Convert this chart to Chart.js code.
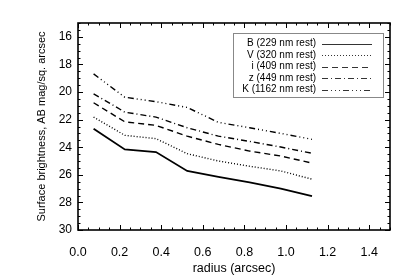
<!DOCTYPE html>
<html>
<head>
<meta charset="utf-8">
<script src="https://cdn.jsdelivr.net/npm/chart.js@4.4.1/dist/chart.umd.min.js"></script>
<style>
html,body{margin:0;padding:0;background:#fff;}
#wrap{width:415px;height:277px;}
</style>
</head>
<body>
<div id="wrap"><canvas id="chart" width="415" height="277"></canvas></div>
<script>
// radial profiles, values
var radius = [0.075, 0.225, 0.375, 0.525, 0.675, 0.825, 0.975, 1.125];
var bandB = [22.66, 24.16, 24.35, 25.72, 26.15, 26.55, 27.0, 27.55];
var bandV = [21.82, 23.14, 23.38, 24.47, 25.0, 25.38, 25.72, 26.32];
var bandI = [20.78, 22.16, 22.42, 23.2, 23.8, 24.28, 24.64, 25.15];
var bandZ = [20.13, 21.46, 21.82, 22.59, 23.2, 23.58, 23.99, 24.44];
var bandK = [18.69, 20.38, 20.7, 21.12, 22.2, 22.59, 23.0, 23.43];
var seriesLabels = ['B (229 nm rest)', 'V (320 nm rest)', 'i (409 nm rest)', 'z (449 nm rest)', 'K (1162 nm rest)'];
var xTicks = [0.0, 0.2, 0.4, 0.6, 0.8, 1.0, 1.2, 1.4];
var yTicks = [16, 18, 20, 22, 24, 26, 28, 30];

Chart.defaults.font.family = '"Liberation Sans", Arial, sans-serif';
Chart.defaults.color = '#000';

function pts(vals) {
  var out = [];
  for (var i = 0; i < radius.length; i++) out.push({x: radius[i], y: vals[i]});
  return out;
}
function line(label, vals, dash, w) {
  return {label: label, data: pts(vals), borderColor: '#000', borderWidth: w,
    borderDash: dash, pointRadius: 0, fill: false, tension: 0};
}

// frame with inward ticks on all four sides
var framePlugin = {
  id: 'frame',
  afterDraw: function (chart) {
    var ctx = chart.ctx, a = chart.chartArea;
    var xs = chart.scales.x, ys = chart.scales.y;
    ctx.save();
    ctx.strokeStyle = '#000';
    ctx.lineWidth = 1;
    ctx.setLineDash([]);
    ctx.beginPath();
    for (var i = 0; i <= 30; i++) {
      var px = Math.round(xs.getPixelForValue(i * 0.05)) + 0.5;
      var len = (i % 4 === 0) ? 5 : 2.5;
      ctx.moveTo(px, a.bottom); ctx.lineTo(px, a.bottom - len);
      ctx.moveTo(px, a.top); ctx.lineTo(px, a.top + len);
    }
    for (var j = 0; j <= 30; j++) {
      var py = Math.round(ys.getPixelForValue(15 + j * 0.5)) + 0.5;
      var l2 = (j % 4 === 2) ? 5 : 2.5;
      ctx.moveTo(a.left, py); ctx.lineTo(a.left + l2, py);
      ctx.moveTo(a.right, py); ctx.lineTo(a.right - l2, py);
    }
    ctx.stroke();
    ctx.lineWidth = 1.6;
    ctx.strokeRect(a.left, a.top, a.right - a.left, a.bottom - a.top);
    ctx.restore();
  }
};

// legend box: labels right aligned, line sample on the right
var legendPlugin = {
  id: 'boxLegend',
  afterDraw: function (chart) {
    var ctx = chart.ctx, a = chart.chartArea;
    var bx = a.right - 157, by = a.top + 10, bw = 150, bh = 64;
    ctx.save();
    ctx.strokeStyle = '#888';
    ctx.lineWidth = 1;
    ctx.setLineDash([]);
    ctx.strokeRect(bx + 0.5, by + 0.5, bw, bh);
    ctx.font = '10px "Liberation Sans", Arial, sans-serif';
    ctx.fillStyle = '#000';
    ctx.textAlign = 'right';
    ctx.textBaseline = 'middle';
    chart.data.datasets.forEach(function (ds, k) {
      var y = by + 10.5 + k * 11.5;
      ctx.fillText(ds.label, bx + 83, y);
      ctx.beginPath();
      ctx.setLineDash(ds.borderDash || []);
      ctx.strokeStyle = '#000';
      ctx.lineWidth = 0.8;
      ctx.moveTo(bx + 89, Math.round(y) + 0.5);
      ctx.lineTo(bx + 139, Math.round(y) + 0.5);
      ctx.stroke();
    });
    ctx.restore();
  }
};

new Chart(document.getElementById('chart'), {
  type: 'line',
  data: {
    datasets: [
      line(seriesLabels[0], bandB, [], 1.8),
      line(seriesLabels[1], bandV, [1, 2], 1.4),
      line(seriesLabels[2], bandI, [6, 4], 1.4),
      line(seriesLabels[3], bandZ, [6, 3, 1, 3], 1.4),
      line(seriesLabels[4], bandK, [6, 3, 1, 3, 1, 3, 1, 3], 1.4)
    ]
  },
  options: {
    responsive: false,
    animation: false,
    devicePixelRatio: 1,
    layout: {padding: {top: 23, right: 25, bottom: 0, left: 0}},
    plugins: {legend: {display: false}, tooltip: {enabled: false}},
    scales: {
      x: {
        type: 'linear', min: 0, max: 1.5,
        afterBuildTicks: function (s) { s.ticks = xTicks.map(function (v) { return {value: v}; }); },
        afterFit: function (s) { s.height = 47; },
        grid: {display: false, drawTicks: false, tickLength: 0},
        border: {display: false},
        ticks: {padding: 15, font: {size: 12.5}, callback: function (v) { return v.toFixed(1); }},
        title: {display: true, text: 'radius (arcsec)', font: {size: 12.5}, padding: {top: 0, bottom: 1}}
      },
      y: {
        type: 'linear', min: 15, max: 30, reverse: true,
        afterBuildTicks: function (s) { s.ticks = yTicks.map(function (v) { return {value: v}; }); },
        afterFit: function (s) { s.width = 78; },
        grid: {display: false, drawTicks: false, tickLength: 0},
        border: {display: false},
        ticks: {padding: 6, font: {size: 12}},
        title: {display: true, text: 'Surface brightness, AB mag/sq. arcsec', font: {size: 11}, padding: {top: 35, bottom: 0}}
      }
    }
  },
  plugins: [framePlugin, legendPlugin]
});
</script>
</body>
</html>
